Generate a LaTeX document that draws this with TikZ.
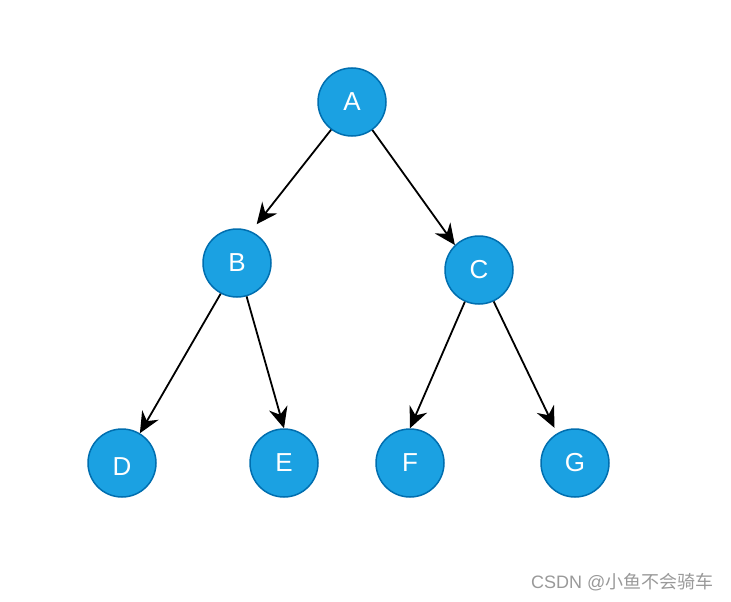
\documentclass[tikz,border=0pt]{standalone}
\usepackage{fontspec}
\setmainfont{Liberation Sans}
\newfontfamily\cjk{Noto Sans CJK SC}
\usetikzlibrary{arrows.meta}
\usetikzlibrary{positioning}
\definecolor{nodeblue}{HTML}{1BA1E2}
\definecolor{nodeedge}{HTML}{006EAF}

\begin{document}
\begin{tikzpicture}[x=1pt, y=-1pt,
treenode/.style={circle, fill=nodeblue, draw=nodeedge, line width=1.5pt, minimum size=68pt, inner sep=0pt, text=white, font=\fontsize{26}{26}\selectfont},
link/.style={-{Stealth[length=21pt, width=19pt, inset=7pt]}, line width=1.8pt},
]
\useasboundingbox (0,0) rectangle (731,602);
%Nodes
\node[treenode] (a) at (352,102) {A};
\node[treenode] (b) at (237,263) {B};
\node[treenode] (c) at (479,270) {C};
\node[treenode] (d) at (122,463) {\raisebox{-4pt}[\height][\depth]{D}};
\node[treenode] (e) at (284,463) {E};
\node[treenode] (f) at (410,463) {F};
\node[treenode] (g) at (575,463) {G};

%Lines
\draw[link, shorten >=9pt] (a.233) -- (b.66);
\draw[link] (a.306) -- (c.134);
\draw[link] (b.242) -- (d.59);
\draw[link] (b.286) -- (e.90);
\draw[link] (c.246) -- (f.90);
\draw[link, shorten >=6pt] (c.295) -- (g.121);

\node[text=black!40, font=\fontsize{18}{18}\selectfont, anchor=east] (mark) at (717,582) {CSDN @{\cjk 小鱼不会骑车}};
\end{tikzpicture}
\end{document}
